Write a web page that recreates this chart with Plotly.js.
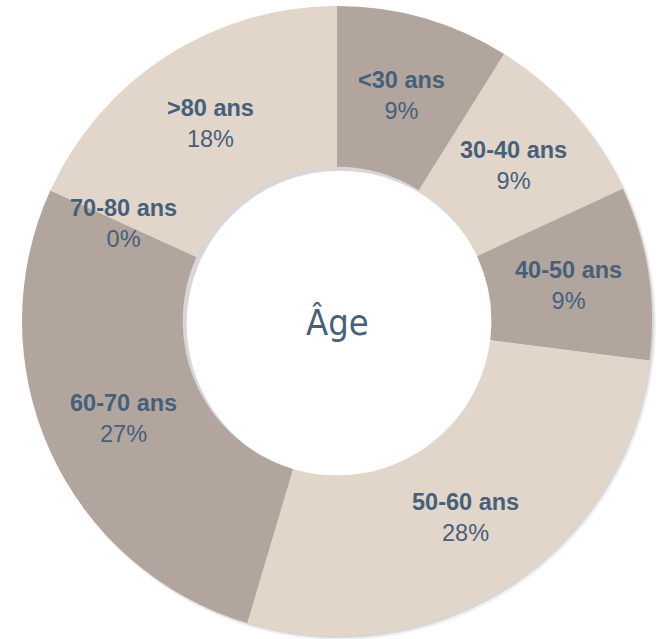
<!DOCTYPE html>
<html><head><meta charset="utf-8">
<script src="https://cdn.plot.ly/plotly-3.0.1.min.js"></script>
<style>html,body{margin:0;padding:0;background:#fff}</style>
</head><body><div id="chart" style="width:660px;height:639px"></div>
<script>
const categories = ["<30 ans", "30-40 ans", "40-50 ans", "50-60 ans", "60-70 ans", "70-80 ans", ">80 ans"];
const values = [8.9, 9.2, 8.9, 27.6, 27.2, 0, 18.2];
const pctLabels = ["9%", "9%", "9%", "28%", "27%", "0%", "18%"];
const centerTitle = "Âge";

const txt = "#46607A";
const colors = ["#B2A59D", "#E2D5C9", "#B2A59D", "#E2D5C9", "#B2A59D", "#E2D5C9", "#E2D5C9"];

const W = 660, H = 639;
const cxp = 337, cyp = 321, R = 315;
const cx = cxp/W, cy = 1 - cyp/H;
const dom = {x: [cx - R/W, cx + R/W], y: [cy - R/H, cy + R/H]};
const hole = 0.49;

const total = values.reduce((a,b)=>a+b,0);
const labelFont = {family: "Liberation Sans, Arial, sans-serif", size: 23.5, color: txt};
const annotations = [{text: centerTitle, x: cx, y: cy - 1/H, xref: "paper", yref: "paper", showarrow: false,
  xanchor: "center", yanchor: "middle",
  font: {family: "DejaVu Sans Condensed, sans-serif", size: 36, color: txt}}];
let cum = 0;
values.forEach((v, i) => {
  const ang = 2*Math.PI*(cum + v/2)/total;
  const rm = R*(1+hole)/2;
  annotations.push({text: "<b>" + categories[i] + "</b><br>" + pctLabels[i],
    x: cx + rm*Math.sin(ang)/W, y: cy + rm*Math.cos(ang)/H,
    xref: "paper", yref: "paper", showarrow: false, xanchor: "center", yanchor: "middle",
    font: labelFont});
  cum += v;
});

function circ(px, py, r, color) {
  return {type: "circle", xref: "paper", yref: "paper", layer: "below",
    x0: (px - r)/W, x1: (px + r)/W, y0: 1 - (py + r)/H, y1: 1 - (py - r)/H,
    fillcolor: color, line: {width: 0}};
}
const shapes = [
  circ(cxp + 3, cyp + 3, R + 1, "rgba(0,0,0,0.06)"),
  circ(cxp + 2, cyp + 2, R, "rgba(0,0,0,0.10)"),
  circ(cxp + 3, cyp + 3, R*hole - 1, "#ffffff")
];

const trace = {
  type: "pie", labels: categories, values: values, text: pctLabels,
  textinfo: "none",
  marker: {colors: colors, line: {width: 0}},
  hole: hole, sort: false, direction: "clockwise", rotation: 0,
  domain: dom, hoverinfo: "none"
};
const layout = {width: W, height: H, margin: {l:0,r:0,t:0,b:0}, showlegend: false,
  paper_bgcolor: "#fff", plot_bgcolor: "rgba(0,0,0,0)", annotations: annotations, shapes: shapes};
Plotly.newPlot("chart", [trace], layout, {displayModeBar: false, staticPlot: true});
</script></body></html>
